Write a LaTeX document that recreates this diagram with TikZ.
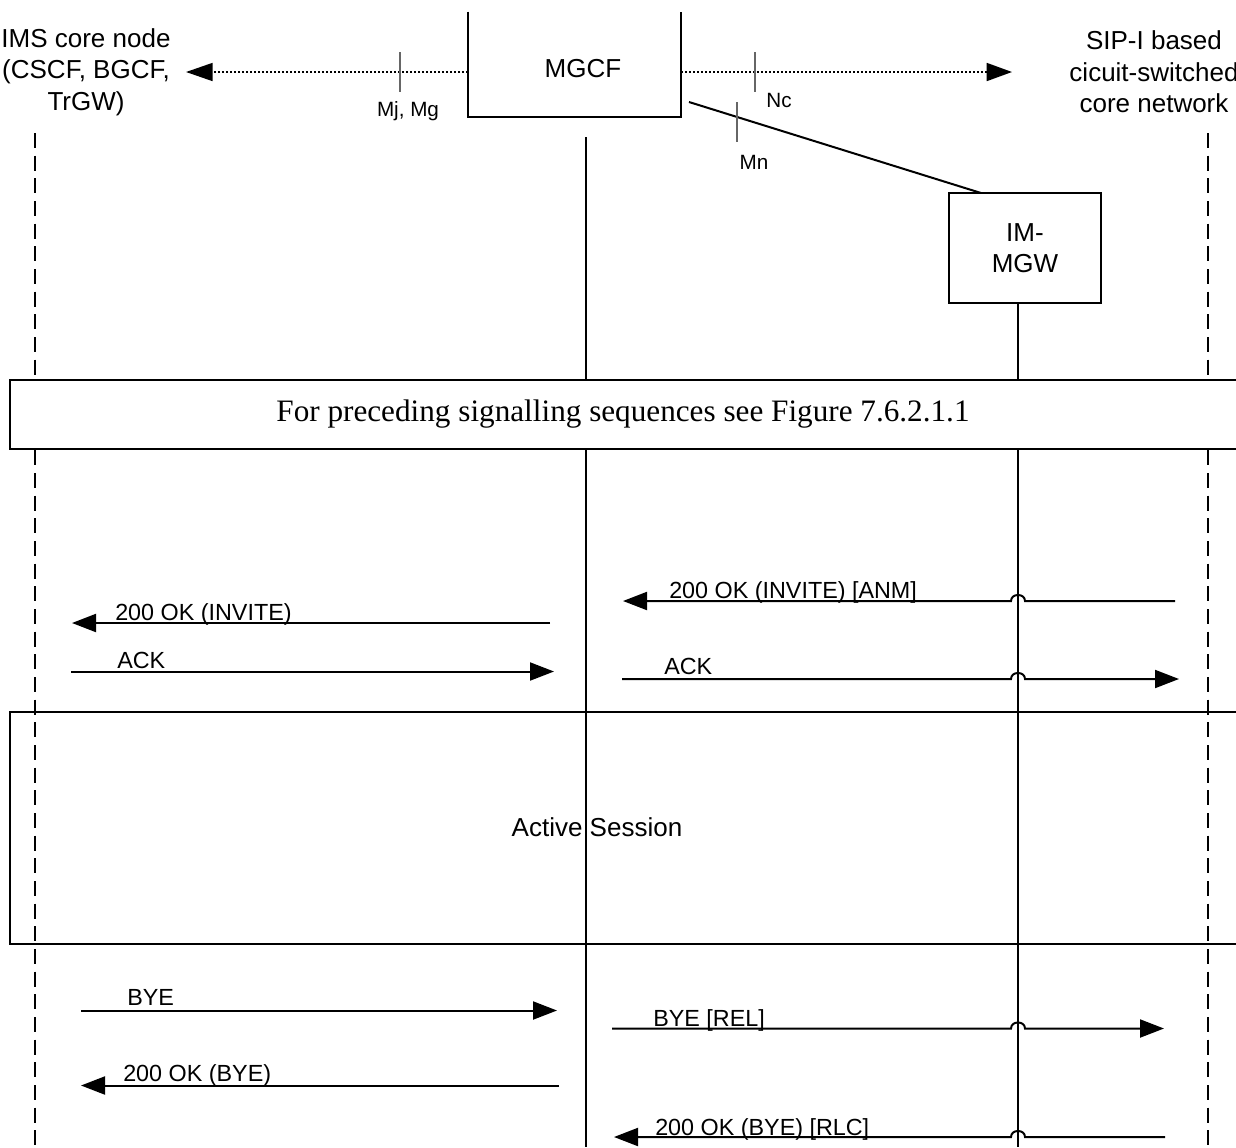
\documentclass[tikz,border=0pt]{standalone}
\usepackage{fontspec}
\setmainfont{Liberation Sans}
\newfontfamily\serf{Liberation Serif}
\usetikzlibrary{arrows.meta}
\begin{document}
\begin{tikzpicture}[x=0.75pt,y=-0.75pt,
  solidline/.style={line width=1.5pt},
  dlife/.style={line width=1.5pt, dash pattern=on 11.25pt off 5.75pt},
  msg/.style={line width=1.5pt,-{Triangle[length=18pt,width=13.5pt]}},
  dotarr/.style={line width=1.3pt, dash pattern=on 1.5pt off 1.5pt},
  tick/.style={line width=0.9pt, black!60},
  hlab/.style={font=\fontsize{19.5}{23.6}\selectfont, align=center, inner sep=0pt},
  mlab/.style={font=\fontsize{17.5}{20}\selectfont, inner sep=0pt, anchor=base west},
  ilab/.style={font=\fontsize{15.5}{18}\selectfont, inner sep=0pt},
  frame/.style={line width=1.5pt},
]
\useasboundingbox (0,0) rectangle (1236,1147);
\clip (0,0) rectangle (1236,1147);

% ---- header entities
\node[hlab] (ims) at (86,72) {IMS core node\\(CSCF, BGCF,\\TrGW)};
\node[hlab] (sip) at (1154,72) {SIP-I based\\cicuit-switched\\core network};
\node[minimum width=159.75pt, minimum height=78.75pt, inner sep=0pt] (mgcf) at (574.5,64.5) {};
\draw[frame] (mgcf.north west) -- (mgcf.south west) -- (mgcf.south east) -- (mgcf.north east);
\node[hlab] (mgcft) at (583,69) {MGCF};
\node[draw, frame, minimum width=114pt, minimum height=82.5pt, inner sep=0pt, hlab] (immgw) at (1025,248) {IM-\\MGW};

% ---- interfaces
\coordinate (mgcfL) at (468,72);
\coordinate (imsR) at (186,72);
\coordinate (mgcfR) at (681,72);
\coordinate (sipL) at (1012,72);
\coordinate (mnA) at (689,102);
\coordinate (mnB) at (981,193);
\draw[dotarr, -{Triangle[length=20pt,width=13.5pt]}] (mgcfL) -- (imsR);
\draw[dotarr, -{Triangle[length=19pt,width=13.5pt]}] (mgcfR) -- (sipL);
\draw[solidline] (mnA) -- (mnB);
\draw[tick] (400,52) -- (400,92);
\draw[tick] (755,52) -- (755,92);
\draw[tick] (737,102) -- (737,142);
\node[ilab] (mjmg) at (408,111) {Mj, Mg};
\node[ilab] (nc) at (779,100) {Nc};
\node[ilab] (mn) at (754,162) {Mn};

% ---- lifelines
\coordinate (imsEnd) at (35,1147);
\coordinate (sipEnd) at (1208,1147);
\coordinate (mgcfEnd) at (586,1147);
\coordinate (mgwEnd) at (1018,1147);
\draw[dlife] (35,133) -- (imsEnd);
\draw[dlife] (1208,133) -- (sipEnd);
\draw[solidline] (586,137) -- (mgcfEnd);
\draw[solidline] (1018,303) -- (mgwEnd);

% ---- box: preceding sequences
\draw[frame, fill=white] (10,380) rectangle (1260,449);
\node[font=\serf\fontsize{23.4}{26}\selectfont, inner sep=0pt] (prec) at (623,414) {For preceding signalling sequences see Figure 7.6.2.1.1};

% ---- messages
\coordinate (m1s) at (1175,601); \coordinate (m1e) at (623,601);
\draw[msg] (m1s) -- (1025,601) .. controls (1025,593) and (1011,593) .. (1011,601) -- (m1e);
\node[mlab] (l1) at (669,598) {200 OK (INVITE) [ANM]};

\coordinate (m2s) at (550,623); \coordinate (m2e) at (72,623);
\draw[msg] (m2s) -- (m2e);
\node[mlab] (l2) at (115,620.5) {200 OK (INVITE)};

\coordinate (m3s) at (71,671.5); \coordinate (m3e) at (554,671.5);
\draw[msg] (m3s) -- (m3e);
\node[mlab] (l3) at (117,668) {ACK};

\coordinate (m4s) at (622,679); \coordinate (m4e) at (1179,679);
\draw[msg] (m4s) -- (1011,679) .. controls (1011,671) and (1025,671) .. (1025,679) -- (m4e);
\node[mlab] (l4) at (664,674) {ACK};

% ---- active session
\draw[frame] (10,712) rectangle (1260,944);
\node[hlab] (act) at (597,827) {Active Session};

\coordinate (m5s) at (81,1010.5); \coordinate (m5e) at (557,1010.5);
\draw[msg] (m5s) -- (m5e);
\node[mlab] (l5) at (127,1005) {BYE};

\coordinate (m6s) at (612,1028.5); \coordinate (m6e) at (1164,1028.5);
\draw[msg] (m6s) -- (1011,1028.5) .. controls (1011,1020.5) and (1025,1020.5) .. (1025,1028.5) -- (m6e);
\node[mlab] (l6) at (653,1026) {BYE [REL]};

\coordinate (m7s) at (559,1085.5); \coordinate (m7e) at (81,1085.5);
\draw[msg] (m7s) -- (m7e);
\node[mlab] (l7) at (123,1081) {200 OK (BYE)};

\coordinate (m8s) at (1165,1137); \coordinate (m8e) at (614,1137);
\draw[msg] (m8s) -- (1025,1137) .. controls (1025,1129) and (1011,1129) .. (1011,1137) -- (m8e);
\node[mlab] (l8) at (655,1135) {200 OK (BYE) [RLC]};
\end{tikzpicture}
\end{document}
